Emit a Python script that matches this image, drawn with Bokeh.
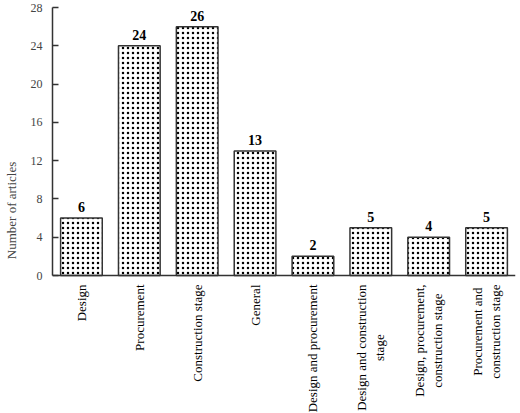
import math
from bokeh.plotting import figure
from bokeh.models import ColumnDataSource, FactorRange, Range1d, FixedTicker, Span
from bokeh.core.properties import value
from bokeh.embed import file_html
from bokeh.resources import INLINE

categories = ["Design", "Procurement", "Construction stage", "General",
              "Design and procurement", "Design and construction\nstage",
              "Design, procurement,\nconstruction stage",
              "Procurement and\nconstruction stage"]
counts = [6, 24, 26, 13, 2, 5, 4, 5]
y_ticks = [0, 4, 8, 12, 16, 20, 24, 28]
y_max = 28

src = ColumnDataSource(dict(cat=categories, n=counts, lab=[str(v) for v in counts],
                            base=[0] * len(categories)))

FONT = "Liberation Serif"
TOP, AXIS_Y, H = 7, 275, 413
y_min = -y_max * (H - AXIS_Y) / (AXIS_Y - TOP)

p = figure(width=520, height=H, x_range=FactorRange(*categories, range_padding=0),
           y_range=Range1d(y_min, y_max), output_backend="svg", toolbar_location=None,
           min_border_left=51, min_border_right=5, min_border_top=TOP, min_border_bottom=0)
p.outline_line_color = None
p.xgrid.grid_line_color = None
p.ygrid.grid_line_color = None
p.background_fill_color = "white"
p.xaxis.visible = False

p.vbar(x="cat", top="n", width=0.72, source=src, fill_color="white",
       line_color="#333333", line_width=1.5, hatch_pattern="dot",
       hatch_color="black", hatch_scale=5, hatch_weight=2)
p.text(x="cat", y="n", text="lab", source=src, text_align="center",
       text_baseline="bottom", y_offset=-6, text_font=value(FONT),
       text_font_style="bold", text_font_size="14px", text_color="black")

# category labels below the baseline
p.text(x="cat", y="base", text="cat", source=src, angle=math.pi / 2,
       anchor=value("center_right"), text_align="center", text_baseline="middle",
       y_offset=9, text_font=value(FONT), text_font_size="13px", text_color="black")

p.add_layout(Span(location=0, dimension="width", line_color="#333333", line_width=1.5))

ya = p.yaxis[0]
ya.bounds = (0, y_max)
ya.ticker = FixedTicker(ticks=y_ticks)
ya.axis_label = "Number of articles"
ya.axis_label_text_font = FONT
ya.axis_label_text_font_style = "normal"
ya.axis_label_text_font_size = "13px"
ya.axis_label_standoff = 9
ya.major_label_text_font = FONT
ya.major_label_text_font_size = "12px"
ya.major_label_standoff = 10
ya.major_tick_in = 6
ya.major_tick_out = 0
ya.minor_tick_in = 0
ya.minor_tick_out = 0
ya.axis_line_color = "#333333"
ya.axis_line_width = 1.5
ya.major_tick_line_color = "#333333"
ya.major_tick_line_width = 1.5

open("out.html", "w").write(file_html(p, INLINE))
